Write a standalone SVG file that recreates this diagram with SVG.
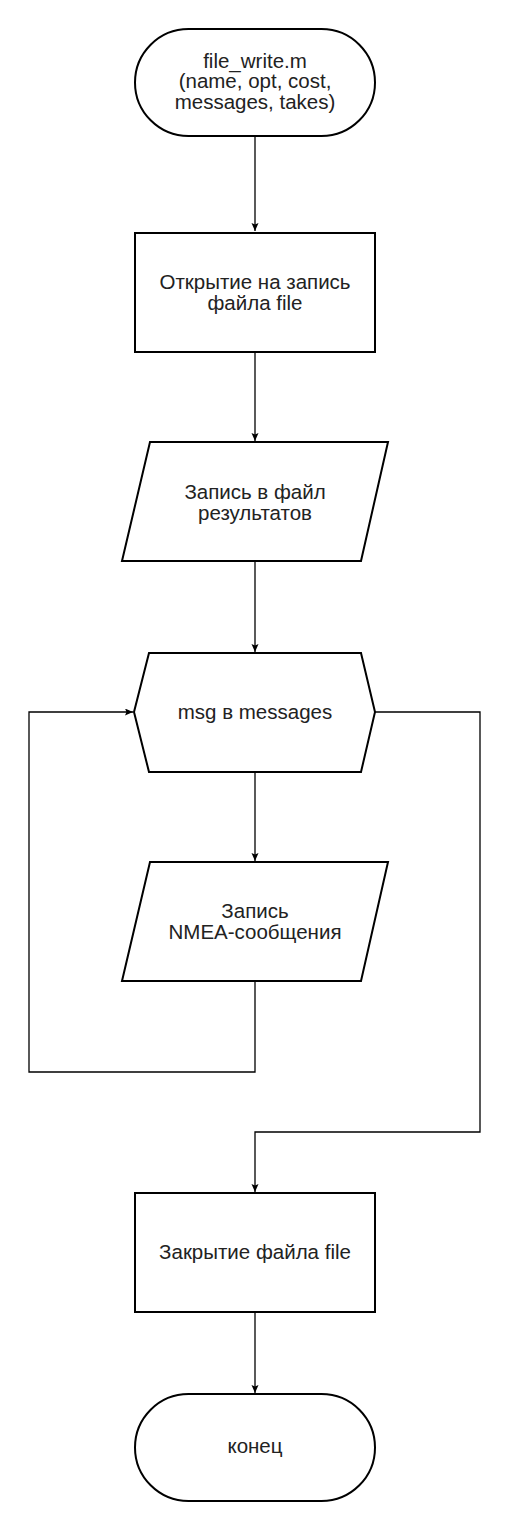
<svg xmlns="http://www.w3.org/2000/svg" width="510" height="1530" viewBox="0 0 510 1530">
  <style>
    .node { fill: #ffffff; stroke: #000000; stroke-width: 2; }
    .label { font-family: "Liberation Sans", Arial, sans-serif; font-size: 20.5px; fill: #222222; text-anchor: middle; }
    .edge { fill: none; stroke: #000000; stroke-width: 1.3; }
  </style>
  <defs>
    <marker id="arrow" markerUnits="userSpaceOnUse" markerWidth="9" markerHeight="8" refX="8" refY="3.5" orient="auto">
      <path d="M0,0 L8,3.5 L0,7 L1.5,3.5 z" fill="#000000"/>
    </marker>
  </defs>
  <rect width="510" height="1530" fill="#ffffff"/>

  <g id="connectors">
    <path class="edge" d="M255,136 V231" marker-end="url(#arrow)"/>
    <path class="edge" d="M255,352 V441" marker-end="url(#arrow)"/>
    <path class="edge" d="M255,561 V652" marker-end="url(#arrow)"/>
    <path class="edge" d="M255,772 V861" marker-end="url(#arrow)"/>
    <path class="edge" d="M255,981 V1072 H29 V712 H133" marker-end="url(#arrow)"/>
    <path class="edge" d="M375,712 H480 V1132 H255 V1192" marker-end="url(#arrow)"/>
    <path class="edge" d="M255,1312 V1393" marker-end="url(#arrow)"/>
  </g>

  <g id="start">
    <rect class="node" x="135" y="29" width="240" height="107" rx="53.5" ry="53.5"/>
    <text class="label" x="255" y="67.5">file_write.m</text>
    <text class="label" x="255" y="88">(name, opt, cost,</text>
    <text class="label" x="255" y="108.5">messages, takes)</text>
  </g>

  <g id="open">
    <rect class="node" x="135" y="233" width="240" height="119"/>
    <text class="label" x="255" y="289">Открытие на запись</text>
    <text class="label" x="255" y="309.5">файла file</text>
  </g>

  <g id="write-results">
    <polygon class="node" points="150,442 388,442 361,561 122,561"/>
    <text class="label" x="255" y="499">Запись в файл</text>
    <text class="label" x="255" y="519.5">результатов</text>
  </g>

  <g id="loop">
    <polygon class="node" points="134,712 149,653 361,653 375,712 361,772 149,772"/>
    <text class="label" x="255" y="719">msg в messages</text>
  </g>

  <g id="write-nmea">
    <polygon class="node" points="150,862 388,862 361,981 122,981"/>
    <text class="label" x="255" y="918">Запись</text>
    <text class="label" x="255" y="938.5">NMEA-сообщения</text>
  </g>

  <g id="close">
    <rect class="node" x="135" y="1193" width="240" height="119"/>
    <text class="label" x="255" y="1258.5">Закрытие файла file</text>
  </g>

  <g id="end">
    <rect class="node" x="135" y="1394" width="240" height="107" rx="53.5" ry="53.5"/>
    <text class="label" x="255" y="1453">конец</text>
  </g>
</svg>
